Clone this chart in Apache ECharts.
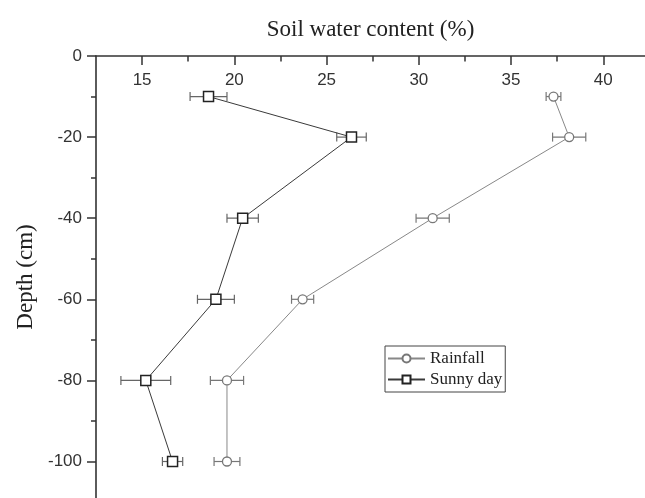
<!DOCTYPE html>
<html>
<head>
<meta charset="utf-8">
<script src="https://cdn.jsdelivr.net/npm/echarts@6/dist/echarts.min.js"></script>
<style>
html,body{margin:0;padding:0;background:#fff;}
#chart{width:645px;height:498px;}
</style>
</head>
<body>
<div id="chart"></div>
<script>
// Data
const depths = [-10, -20, -40, -60, -80, -100];
const rainfall = [37.3, 38.15, 30.75, 23.7, 19.6, 19.6];
const rainfallErr = [0.4, 0.9, 0.9, 0.6, 0.9, 0.7];
const sunny = [18.6, 26.35, 20.45, 19.0, 15.2, 16.65];
const sunnyErr = [1.0, 0.8, 0.85, 1.0, 1.35, 0.55];
const xTickLabels = [15, 20, 25, 30, 35, 40];
const xMinorTicks = [17.5, 22.5, 27.5, 32.5, 37.5];
const yTickLabels = [0, -20, -40, -60, -80, -100];
const yMinorTicks = [-10, -30, -50, -70, -90];

const chart = echarts.init(document.getElementById('chart'), null, {renderer: 'canvas'});

function pairs(xs, ys) { return xs.map((v, i) => [v, ys[i]]); }
function errData(xs, es) { return xs.map((v, i) => [v, depths[i], es[i]]); }

function errRender(color) {
  return function (params, api) {
    const x = api.value(0), y = api.value(1), e = api.value(2);
    const p1 = api.coord([x - e, y]);
    const p2 = api.coord([x + e, y]);
    const h = 4.5;
    const st = {stroke: color, lineWidth: 1.2, fill: null};
    return {
      type: 'group',
      children: [
        {type: 'line', shape: {x1: p1[0], y1: p1[1], x2: p2[0], y2: p2[1]}, style: st},
        {type: 'line', shape: {x1: p1[0], y1: p1[1] - h, x2: p1[0], y2: p1[1] + h}, style: st},
        {type: 'line', shape: {x1: p2[0], y1: p2[1] - h, x2: p2[0], y2: p2[1] + h}, style: st}
      ]
    };
  };
}

const XMIN = 12.5, XMAX = 42.26, YMIN = -109, YMAX = 0;
const axisColor = '#333';

chart.setOption({
  animation: false,
  backgroundColor: '#fff',
  grid: {left: 96, top: 56, right: 0, bottom: 0, containLabel: false},
  legend: {
    left: 385, top: 346,
    orient: 'vertical',
    data: ['Rainfall', 'Sunny day'],
    itemWidth: 37, itemHeight: 10, itemGap: 4,
    padding: [4, 3, 4, 2],
    borderColor: '#444', borderWidth: 1,
    textStyle: {fontFamily: 'Liberation Serif', fontSize: 17, color: '#222', lineHeight: 17}
  },
  xAxis: [
    {
      type: 'value', position: 'top', min: XMIN, max: XMAX,
      name: 'Soil water content (%)', nameLocation: 'middle', nameGap: 15,
      nameTextStyle: {fontFamily: 'Liberation Serif', fontSize: 23, color: '#222'},
      axisLine: {show: true, onZero: false, lineStyle: {color: axisColor, width: 1.6}},
      axisTick: {show: true, inside: true, length: 9, customValues: xTickLabels, lineStyle: {color: axisColor, width: 1.5}},
      axisLabel: {show: true, inside: true, margin: 16, customValues: xTickLabels,
        fontFamily: 'Liberation Sans', fontSize: 17, color: '#333'},
      splitLine: {show: false}
    },
    {
      type: 'value', position: 'top', min: XMIN, max: XMAX,
      axisLine: {show: false},
      axisTick: {show: true, inside: true, length: 5.5, customValues: xMinorTicks, lineStyle: {color: axisColor, width: 1.5}},
      axisLabel: {show: false},
      splitLine: {show: false}
    }
  ],
  yAxis: [
    {
      type: 'value', position: 'left', min: YMIN, max: YMAX,
      name: 'Depth (cm)', nameLocation: 'middle', nameGap: 59,
      nameTextStyle: {fontFamily: 'Liberation Serif', fontSize: 23, color: '#222'},
      axisLine: {show: true, onZero: false, lineStyle: {color: axisColor, width: 1.6}},
      axisTick: {show: true, inside: false, length: 9, customValues: yTickLabels, lineStyle: {color: axisColor, width: 1.5}},
      axisLabel: {show: true, margin: 14, customValues: yTickLabels,
        fontFamily: 'Liberation Sans', fontSize: 17, color: '#333'},
      splitLine: {show: false}
    },
    {
      type: 'value', position: 'left', min: YMIN, max: YMAX,
      axisLine: {show: false},
      axisTick: {show: true, inside: false, length: 5, customValues: yMinorTicks, lineStyle: {color: axisColor, width: 1.5}},
      axisLabel: {show: false},
      splitLine: {show: false}
    }
  ],
  series: [
    {
      type: 'custom', name: 'rainErr', xAxisIndex: 0, yAxisIndex: 0, z: 1,
      renderItem: errRender('#777'), data: errData(rainfall, rainfallErr), silent: true
    },
    {
      type: 'custom', name: 'sunnyErr', xAxisIndex: 0, yAxisIndex: 0, z: 1,
      renderItem: errRender('#666'), data: errData(sunny, sunnyErr), silent: true
    },
    {
      type: 'line', name: 'Rainfall', xAxisIndex: 0, yAxisIndex: 0, z: 3,
      data: pairs(rainfall, depths),
      symbol: 'circle', symbolSize: 9,
      lineStyle: {color: '#888', width: 1},
      itemStyle: {color: '#fff', borderColor: '#777', borderWidth: 1.3},
      emphasis: {disabled: true}
    },
    {
      type: 'line', name: 'Sunny day', xAxisIndex: 0, yAxisIndex: 0, z: 4,
      data: pairs(sunny, depths),
      symbol: 'rect', symbolSize: 10,
      lineStyle: {color: '#3a3a3a', width: 1},
      itemStyle: {color: '#fff', borderColor: '#222', borderWidth: 1.5},
      emphasis: {disabled: true}
    }
  ]
});
</script>
</body>
</html>
